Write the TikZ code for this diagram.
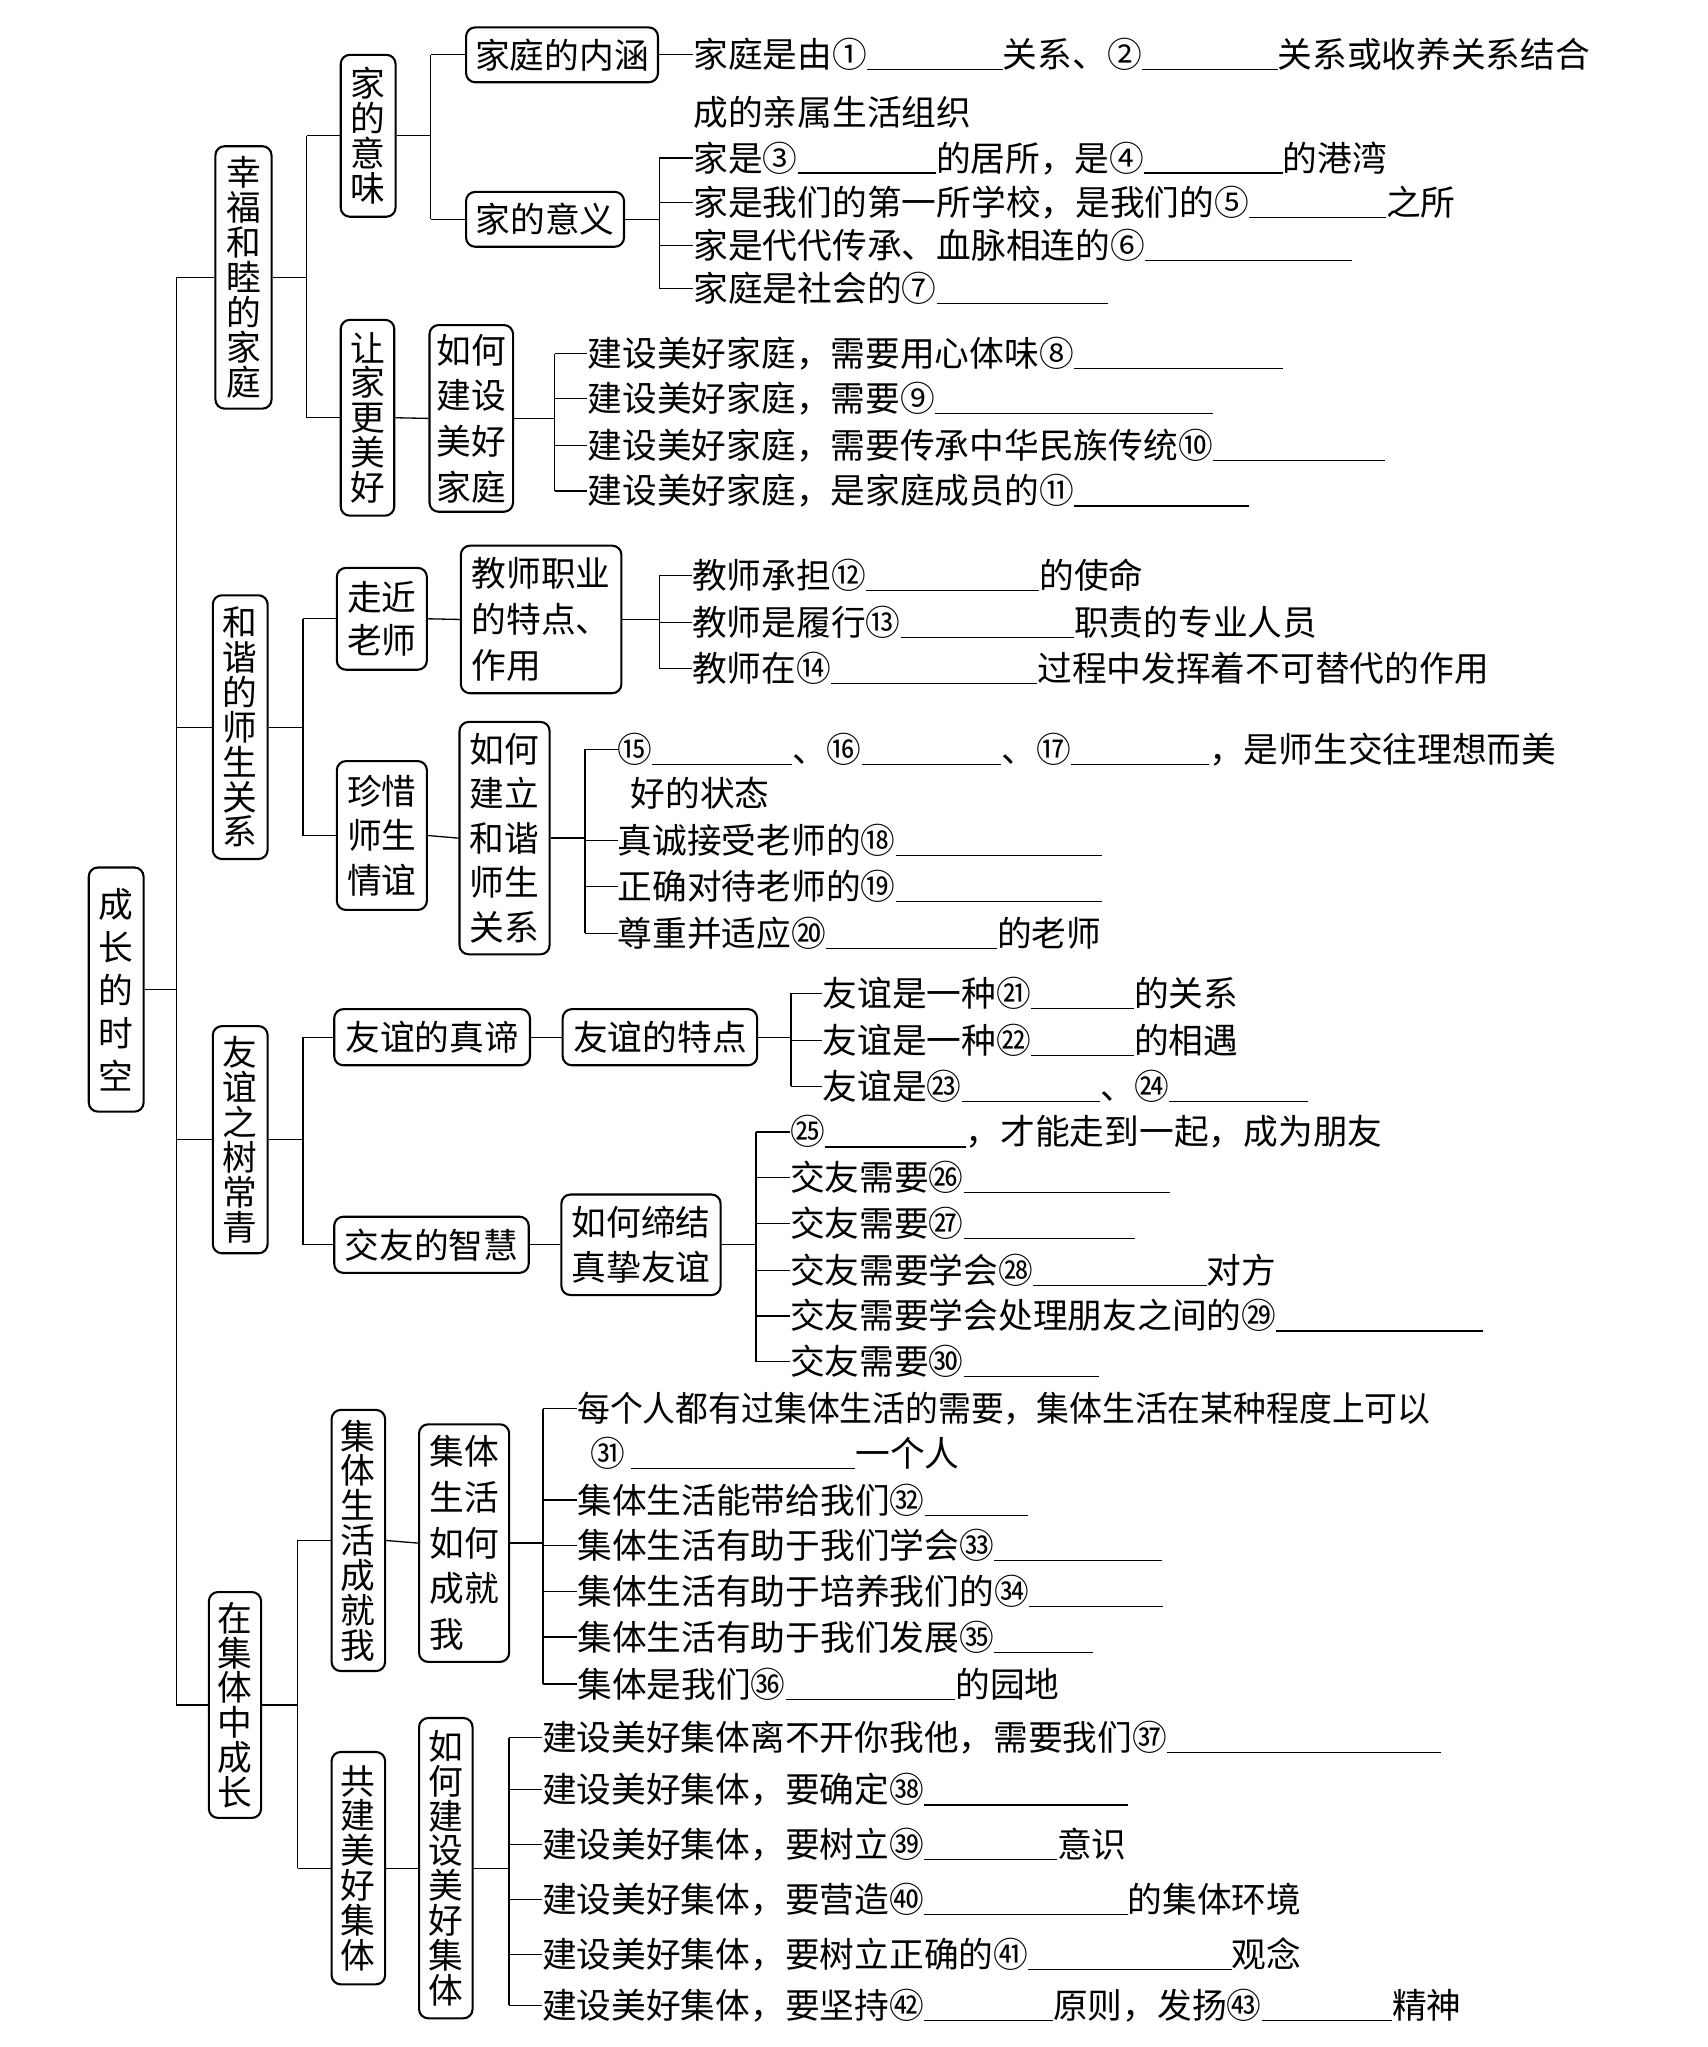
\documentclass[tikz,border=0pt]{standalone}
\usepackage{fontspec}
\usepackage{graphicx}
\setmainfont{Noto Sans CJK SC}
\newcommand\bl[1]{\rule[-2pt]{#1pt}{0.9pt}}
\tikzset{
  bx/.style={draw, line width=1.6pt, rounded corners=7pt, inner sep=0pt, align=center},
  vb/.style={bx, font=\fontsize{26.6}{#1}\selectfont},
  ln/.style={line width=1pt},
  tx/.style={anchor=west, inner sep=0pt, text height=22pt, text depth=2pt, font=\fontsize{26.6}{30}\selectfont},
}
\begin{document}
\begin{tikzpicture}[x=1pt,y=-1pt,font=\fontsize{26.6}{32}\selectfont]
\useasboundingbox (0,0) rectangle (1308,1568);
\fill[white] (0,0) rectangle (1308,1568);

% ---------- root and level 1 ----------
\node[vb=33, minimum width=42pt, minimum height=187pt] (root) at (89,758) {成\\长\\的\\时\\空};
\node[vb=26.7, minimum width=43pt, minimum height=201pt] (a1) at (186.5,212.5) {幸\\福\\和\\睦\\的\\家\\庭};
\node[vb=26.7, minimum width=42pt, minimum height=202pt] (a2) at (184,557) {和\\谐\\的\\师\\生\\关\\系};
\node[vb=26.7, minimum width=42pt, minimum height=174pt] (a3) at (184,873) {友\\谊\\之\\树\\常\\青};
\node[vb=26.7, minimum width=40pt, minimum height=173pt] (a4) at (180,1306) {在\\集\\体\\中\\成\\长};
\coordinate (T) at (135,0);
\draw[ln] (root.east) -- (root.east -| T);
\draw[ln] (T |- a1.west) -- (T |- a4.west);
\foreach \n in {a1,a2,a3,a4} \draw[ln] (T |- \n.west) -- (\n.west);

% ---------- section 1 ----------
\node[vb=27, minimum width=42pt, minimum height=124pt] (b1) at (282,104) {家\\的\\意\\味};
\node[vb=26.7, minimum width=41pt, minimum height=150pt] (b2) at (281.5,320) {让\\家\\更\\美\\好};
\node[bx, minimum width=147pt, minimum height=42pt] (c1) at (430.5,42) {家庭的内涵};
\node[bx, minimum width=121pt, minimum height=42pt] (c2) at (417.5,168) {家的意义};
\node[vb=35, minimum width=64pt, minimum height=143pt] (c3) at (361,320.5) {如何\\建设\\美好\\家庭};
\coordinate (V1) at (235,0);
\draw[ln] (a1.east) -- (a1.east -| V1);
\draw[ln] (V1 |- b1.west) -- (V1 |- b2.west);
\foreach \n in {b1,b2} \draw[ln] (V1 |- \n.west) -- (\n.west);
\coordinate (V2) at (330,0);
\draw[ln] (b1.east) -- (b1.east -| V2);
\draw[ln] (V2 |- c1.west) -- (V2 |- c2.west);
\foreach \n in {c1,c2} \draw[ln] (V2 |- \n.west) -- (\n.west);
\draw[ln] (b2.east) -- (c3.west);

\node[tx] (t1) at (531,42) {家庭是由①\bl{104}关系、②\bl{104}关系或收养关系结合};
\node[tx] (t1b) at (531,86) {成的亲属生活组织};
\draw[ln] (c1.east) -- (t1.west);
\node[tx] (t3) at (531,121) {家是③\bl{106}的居所，是④\bl{106}的港湾};
\node[tx] (t4) at (531,155) {家是我们的第一所学校，是我们的⑤\bl{105}之所};
\node[tx] (t5) at (531,188) {家是代代传承、血脉相连的⑥\bl{159}};
\node[tx] (t6) at (531,221) {家庭是社会的⑦\bl{131}};
\coordinate (V3) at (505,0);
\draw[ln] (c2.east) -- (c2.east -| V3);
\draw[ln] (V3 |- t3.west) -- (V3 |- t6.west);
\foreach \n in {t3,t4,t5,t6} \draw[ln] (V3 |- \n.west) -- (\n.west);

\node[tx] (t8) at (450,271) {建设美好家庭，需要用心体味⑧\bl{160}};
\node[tx] (t9) at (450,305) {建设美好家庭，需要⑨\bl{213}};
\node[tx] (t10) at (450,341) {建设美好家庭，需要传承中华民族传统⑩\bl{132}};
\node[tx] (t11) at (450,376) {建设美好家庭，是家庭成员的⑪\bl{134}};
\coordinate (V4) at (425,0);
\draw[ln] (c3.east) -- (c3.east -| V4);
\draw[ln] (V4 |- t8.west) -- (V4 |- t11.west);
\foreach \n in {t8,t9,t10,t11} \draw[ln] (V4 |- \n.west) -- (\n.west);

% ---------- section 2 ----------
\node[vb=33, minimum width=69pt, minimum height=78pt] (d1) at (292.5,474) {走近\\老师};
\node[vb=35, minimum width=123pt, minimum height=113pt, align=left] (d2) at (414.5,474.5) {教师职业\\的特点、\\作用};
\node[vb=34, minimum width=69pt, minimum height=114pt] (d3) at (292.5,640) {珍惜\\师生\\情谊};
\node[vb=34, minimum width=69pt, minimum height=178pt] (d4) at (386.5,642) {如何\\建立\\和谐\\师生\\关系};
\coordinate (V5) at (232,0);
\draw[ln] (a2.east) -- (a2.east -| V5);
\draw[ln] (V5 |- d1.west) -- (V5 |- d3.west);
\foreach \n in {d1,d3} \draw[ln] (V5 |- \n.west) -- (\n.west);
\draw[ln] (d1.east) -- (d2.west);
\draw[ln] (d3.east) -- (d4.west);

\node[tx] (t12) at (530,441) {教师承担⑫\bl{133}的使命};
\node[tx] (t13) at (530,477) {教师是履行⑬\bl{133}职责的专业人员};
\node[tx] (t14) at (530,512) {教师在⑭\bl{158}过程中发挥着不可替代的作用};
\coordinate (V6) at (505,0);
\draw[ln] (d2.east) -- (d2.east -| V6);
\draw[ln] (V6 |- t12.west) -- (V6 |- t14.west);
\foreach \n in {t12,t13,t14} \draw[ln] (V6 |- \n.west) -- (\n.west);

\node[tx] (t15) at (473,574) {⑮\bl{107}、⑯\bl{107}、⑰\bl{106}，是师生交往理想而美};
\node[tx] (t15b) at (483,608) {好的状态};
\node[tx] (t18) at (473,644) {真诚接受老师的⑱\bl{158}};
\node[tx] (t19) at (473,679) {正确对待老师的⑲\bl{158}};
\node[tx] (t20) at (473,715) {尊重并适应⑳\bl{131}的老师};
\coordinate (V7) at (448,0);
\draw[ln] (d4.east) -- (d4.east -| V7);
\draw[ln] (V7 |- t15.west) -- (V7 |- t20.west);
\foreach \n in {t15,t18,t19,t20} \draw[ln] (V7 |- \n.west) -- (\n.west);

% ---------- section 3 ----------
\node[bx, minimum width=150pt, minimum height=43pt] (e1) at (331,794.5) {友谊的真谛};
\node[bx, minimum width=149pt, minimum height=43pt] (e2) at (505.5,794.5) {友谊的特点};
\node[bx, minimum width=149pt, minimum height=43pt] (e3) at (330.5,953.5) {交友的智慧};
\node[vb=34, minimum width=122pt, minimum height=77pt] (e4) at (491,953.5) {如何缔结\\真挚友谊};
\coordinate (V8) at (232,0);
\draw[ln] (a3.east) -- (a3.east -| V8);
\draw[ln] (V8 |- e1.west) -- (V8 |- e3.west);
\foreach \n in {e1,e3} \draw[ln] (V8 |- \n.west) -- (\n.west);
\draw[ln] (e1.east) -- (e2.west);
\draw[ln] (e3.east) -- (e4.west);

\node[tx] (t21) at (630,761) {友谊是一种㉑\bl{79}的关系};
\node[tx] (t22) at (630,797) {友谊是一种㉒\bl{79}的相遇};
\node[tx] (t23) at (630,832) {友谊是㉓\bl{106}、㉔\bl{106}};
\coordinate (V9) at (606,0);
\draw[ln] (e2.east) -- (e2.east -| V9);
\draw[ln] (V9 |- t21.west) -- (V9 |- t23.west);
\foreach \n in {t21,t22,t23} \draw[ln] (V9 |- \n.west) -- (\n.west);

\node[tx] (t25) at (605,867) {㉕\bl{108}，才能走到一起，成为朋友};
\node[tx] (t26) at (605,902) {交友需要㉖\bl{158}};
\node[tx] (t27) at (605,937) {交友需要㉗\bl{131}};
\node[tx] (t28) at (605,973) {交友需要学会㉘\bl{133}对方};
\node[tx] (t29) at (605,1008) {交友需要学会处理朋友之间的㉙\bl{158}};
\node[tx] (t30) at (605,1043) {交友需要㉚\bl{104}};
\coordinate (V10) at (579,0);
\draw[ln] (e4.east) -- (e4.east -| V10);
\draw[ln] (V10 |- t25.west) -- (V10 |- t30.west);
\foreach \n in {t25,t26,t27,t28,t29,t30} \draw[ln] (V10 |- \n.west) -- (\n.west);

% ---------- section 4 ----------
\node[vb=26.7, minimum width=41pt, minimum height=200pt] (f1) at (274.5,1180) {集\\体\\生\\活\\成\\就\\我};
\node[vb=35, minimum width=69pt, minimum height=182pt, align=left] (f2) at (355.5,1182) {集体\\生活\\如何\\成就\\我};
\node[vb=26.7, minimum width=41pt, minimum height=178pt] (f3) at (274.5,1431) {共\\建\\美\\好\\集\\体};
\node[vb=26.7, minimum width=41pt, minimum height=230pt] (f4) at (341.5,1431) {如\\何\\建\\设\\美\\好\\集\\体};
\coordinate (V11) at (228,0);
\draw[ln] (a4.east) -- (a4.east -| V11);
\draw[ln] (V11 |- f1.west) -- (V11 |- f3.west);
\foreach \n in {f1,f3} \draw[ln] (V11 |- \n.west) -- (\n.west);
\draw[ln] (f1.east) -- (f2.west);
\draw[ln] (f3.east) -- (f4.west);

\node[tx] (t31) at (442,1079) {\scalebox{0.945}[1]{每个人都有过集体生活的需要，集体生活在某种程度上可以}};
\node[tx] (t31b) at (452,1113) {㉛\,\bl{172}一个人};
\node[tx] (t32) at (442,1149) {集体生活能带给我们㉜\bl{79}};
\node[tx] (t33) at (442,1184) {集体生活有助于我们学会㉝\bl{129}};
\node[tx] (t34) at (442,1219) {集体生活有助于培养我们的㉞\bl{103}};
\node[tx] (t35) at (442,1254) {集体生活有助于我们发展㉟\bl{76}};
\node[tx] (t36) at (442,1290) {集体是我们㊱\bl{130}的园地};
\coordinate (V12) at (416,0);
\draw[ln] (f2.east) -- (f2.east -| V12);
\draw[ln] (V12 |- t31.west) -- (V12 |- t36.west);
\foreach \n in {t31,t32,t33,t34,t35,t36} \draw[ln] (V12 |- \n.west) -- (\n.west);

\node[tx] (t37) at (415,1331) {建设美好集体离不开你我他，需要我们㊲\bl{210}};
\node[tx] (t38) at (415,1371) {建设美好集体，要确定㊳\bl{156}};
\node[tx] (t39) at (415,1413) {建设美好集体，要树立㊴\bl{102}意识};
\node[tx] (t40) at (415,1455) {建设美好集体，要营造㊵\bl{156}的集体环境};
\node[tx] (t41) at (415,1497) {建设美好集体，要树立正确的㊶\bl{156}观念};
\node[tx] (t42) at (415,1536) {建设美好集体，要坚持㊷\bl{99}原则，发扬㊸\bl{100}精神};
\coordinate (V13) at (390,0);
\draw[ln] (f4.east) -- (f4.east -| V13);
\draw[ln] (V13 |- t37.west) -- (V13 |- t42.west);
\foreach \n in {t37,t38,t39,t40,t41,t42} \draw[ln] (V13 |- \n.west) -- (\n.west);
\end{tikzpicture}
\end{document}
